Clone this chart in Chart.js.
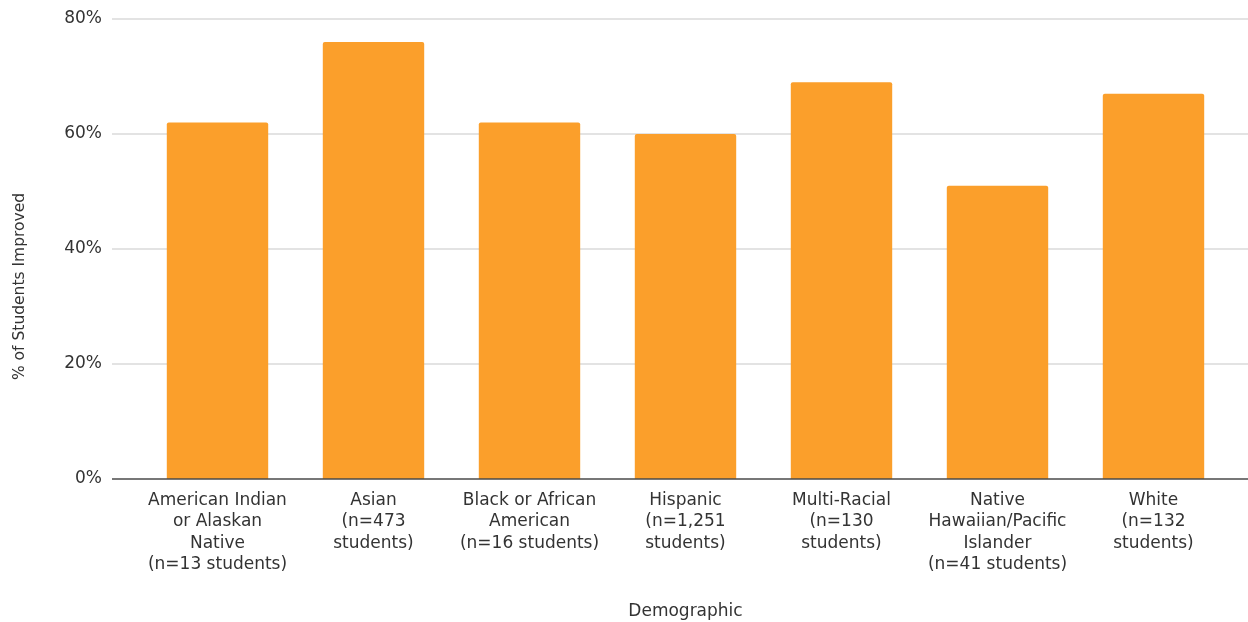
<!DOCTYPE html>
<html>
<head>
<meta charset="utf-8">
<script src="https://cdn.jsdelivr.net/npm/chart.js@4"></script>
<style>
  body { margin: 0; background: #fff; }
  #wrap { width: 1248px; height: 622px; }
</style>
</head>
<body>
<div id="wrap"><canvas id="improved" width="1248" height="622"></canvas></div>
<script>
const demographics = [
  ['American Indian', 'or Alaskan', 'Native', '(n=13 students)'],
  ['Asian', '(n=473', 'students)'],
  ['Black or African', 'American', '(n=16 students)'],
  ['Hispanic', '(n=1,251', 'students)'],
  ['Multi-Racial', '(n=130', 'students)'],
  ['Native', 'Hawaiian/Pacific', 'Islander', '(n=41 students)'],
  ['White', '(n=132', 'students)']
];
const pctImproved = [62, 76, 62, 60, 69, 51, 67];
const yMax = 80;
const yStep = 20;
const xTitle = 'Demographic';
const yTitle = '% of Students Improved';

const FONT = "'DejaVu Sans', sans-serif";
const TEXT = '#333333';

// grid lines run past the bar area on both sides, baseline on top of the bars
const gridPlugin = {
  id: 'wideGrid',
  beforeDatasetsDraw(chart) {
    const ctx = chart.ctx, y = chart.scales.y;
    ctx.save();
    ctx.strokeStyle = '#dadada';
    ctx.lineWidth = 1.5;
    y.ticks.forEach(t => {
      if (t.value === 0) return;
      const py = y.getPixelForValue(t.value);
      ctx.beginPath();
      ctx.moveTo(112, py);
      ctx.lineTo(chart.width, py);
      ctx.stroke();
    });
    ctx.restore();
  },
  afterDatasetsDraw(chart) {
    const ctx = chart.ctx, y = chart.scales.y;
    const py = y.getPixelForValue(0);
    ctx.save();
    ctx.strokeStyle = '#4a4a4a';
    ctx.lineWidth = 1.3;
    ctx.beginPath();
    ctx.moveTo(112, py);
    ctx.lineTo(chart.width, py);
    ctx.stroke();
    // y axis title sits a bit below the middle of the plot
    ctx.translate(19.5, 286.5);
    ctx.rotate(-Math.PI / 2);
    ctx.fillStyle = TEXT;
    ctx.font = "15.5px " + FONT;
    ctx.textAlign = 'center';
    ctx.textBaseline = 'middle';
    ctx.fillText(yTitle, 0, 0);
    ctx.restore();
  }
};

new Chart(document.getElementById('improved'), {
  type: 'bar',
  data: {
    labels: demographics,
    datasets: [{
      data: pctImproved,
      backgroundColor: '#fb9f2b',
      borderRadius: { topLeft: 2, topRight: 2 },
      borderSkipped: 'bottom',
      barPercentage: 0.65,
      categoryPercentage: 1
    }]
  },
  options: {
    responsive: false,
    animation: false,
    layout: { padding: { top: 19, right: 16.5, left: 0, bottom: 0 } },
    plugins: { legend: { display: false }, tooltip: { enabled: false } },
    scales: {
      x: {
        grid: { display: false, drawTicks: false },
        border: { display: false },
        ticks: {
          color: TEXT,
          font: { family: FONT, size: 17, lineHeight: 1.25 },
          padding: 11,
          maxRotation: 0,
          autoSkip: false
        },
        title: {
          display: true,
          text: xTitle,
          color: TEXT,
          font: { family: FONT, size: 17, lineHeight: 1.25 },
          padding: { top: 0, bottom: 0 }
        },
        afterFit(scale) { scale.height = 143; }
      },
      y: {
        min: 0,
        max: yMax,
        grid: { display: false, drawTicks: false },
        border: { display: false },
        ticks: {
          stepSize: yStep,
          color: TEXT,
          font: { family: FONT, size: 17 },
          padding: 37.5,
          callback: v => v + '%'
        },
        afterFit(scale) {
          scale.width = 139.5;
          scale.paddingTop = 0;
          scale.paddingBottom = 0;
        }
      }
    }
  },
  plugins: [gridPlugin]
});
</script>
</body>
</html>
